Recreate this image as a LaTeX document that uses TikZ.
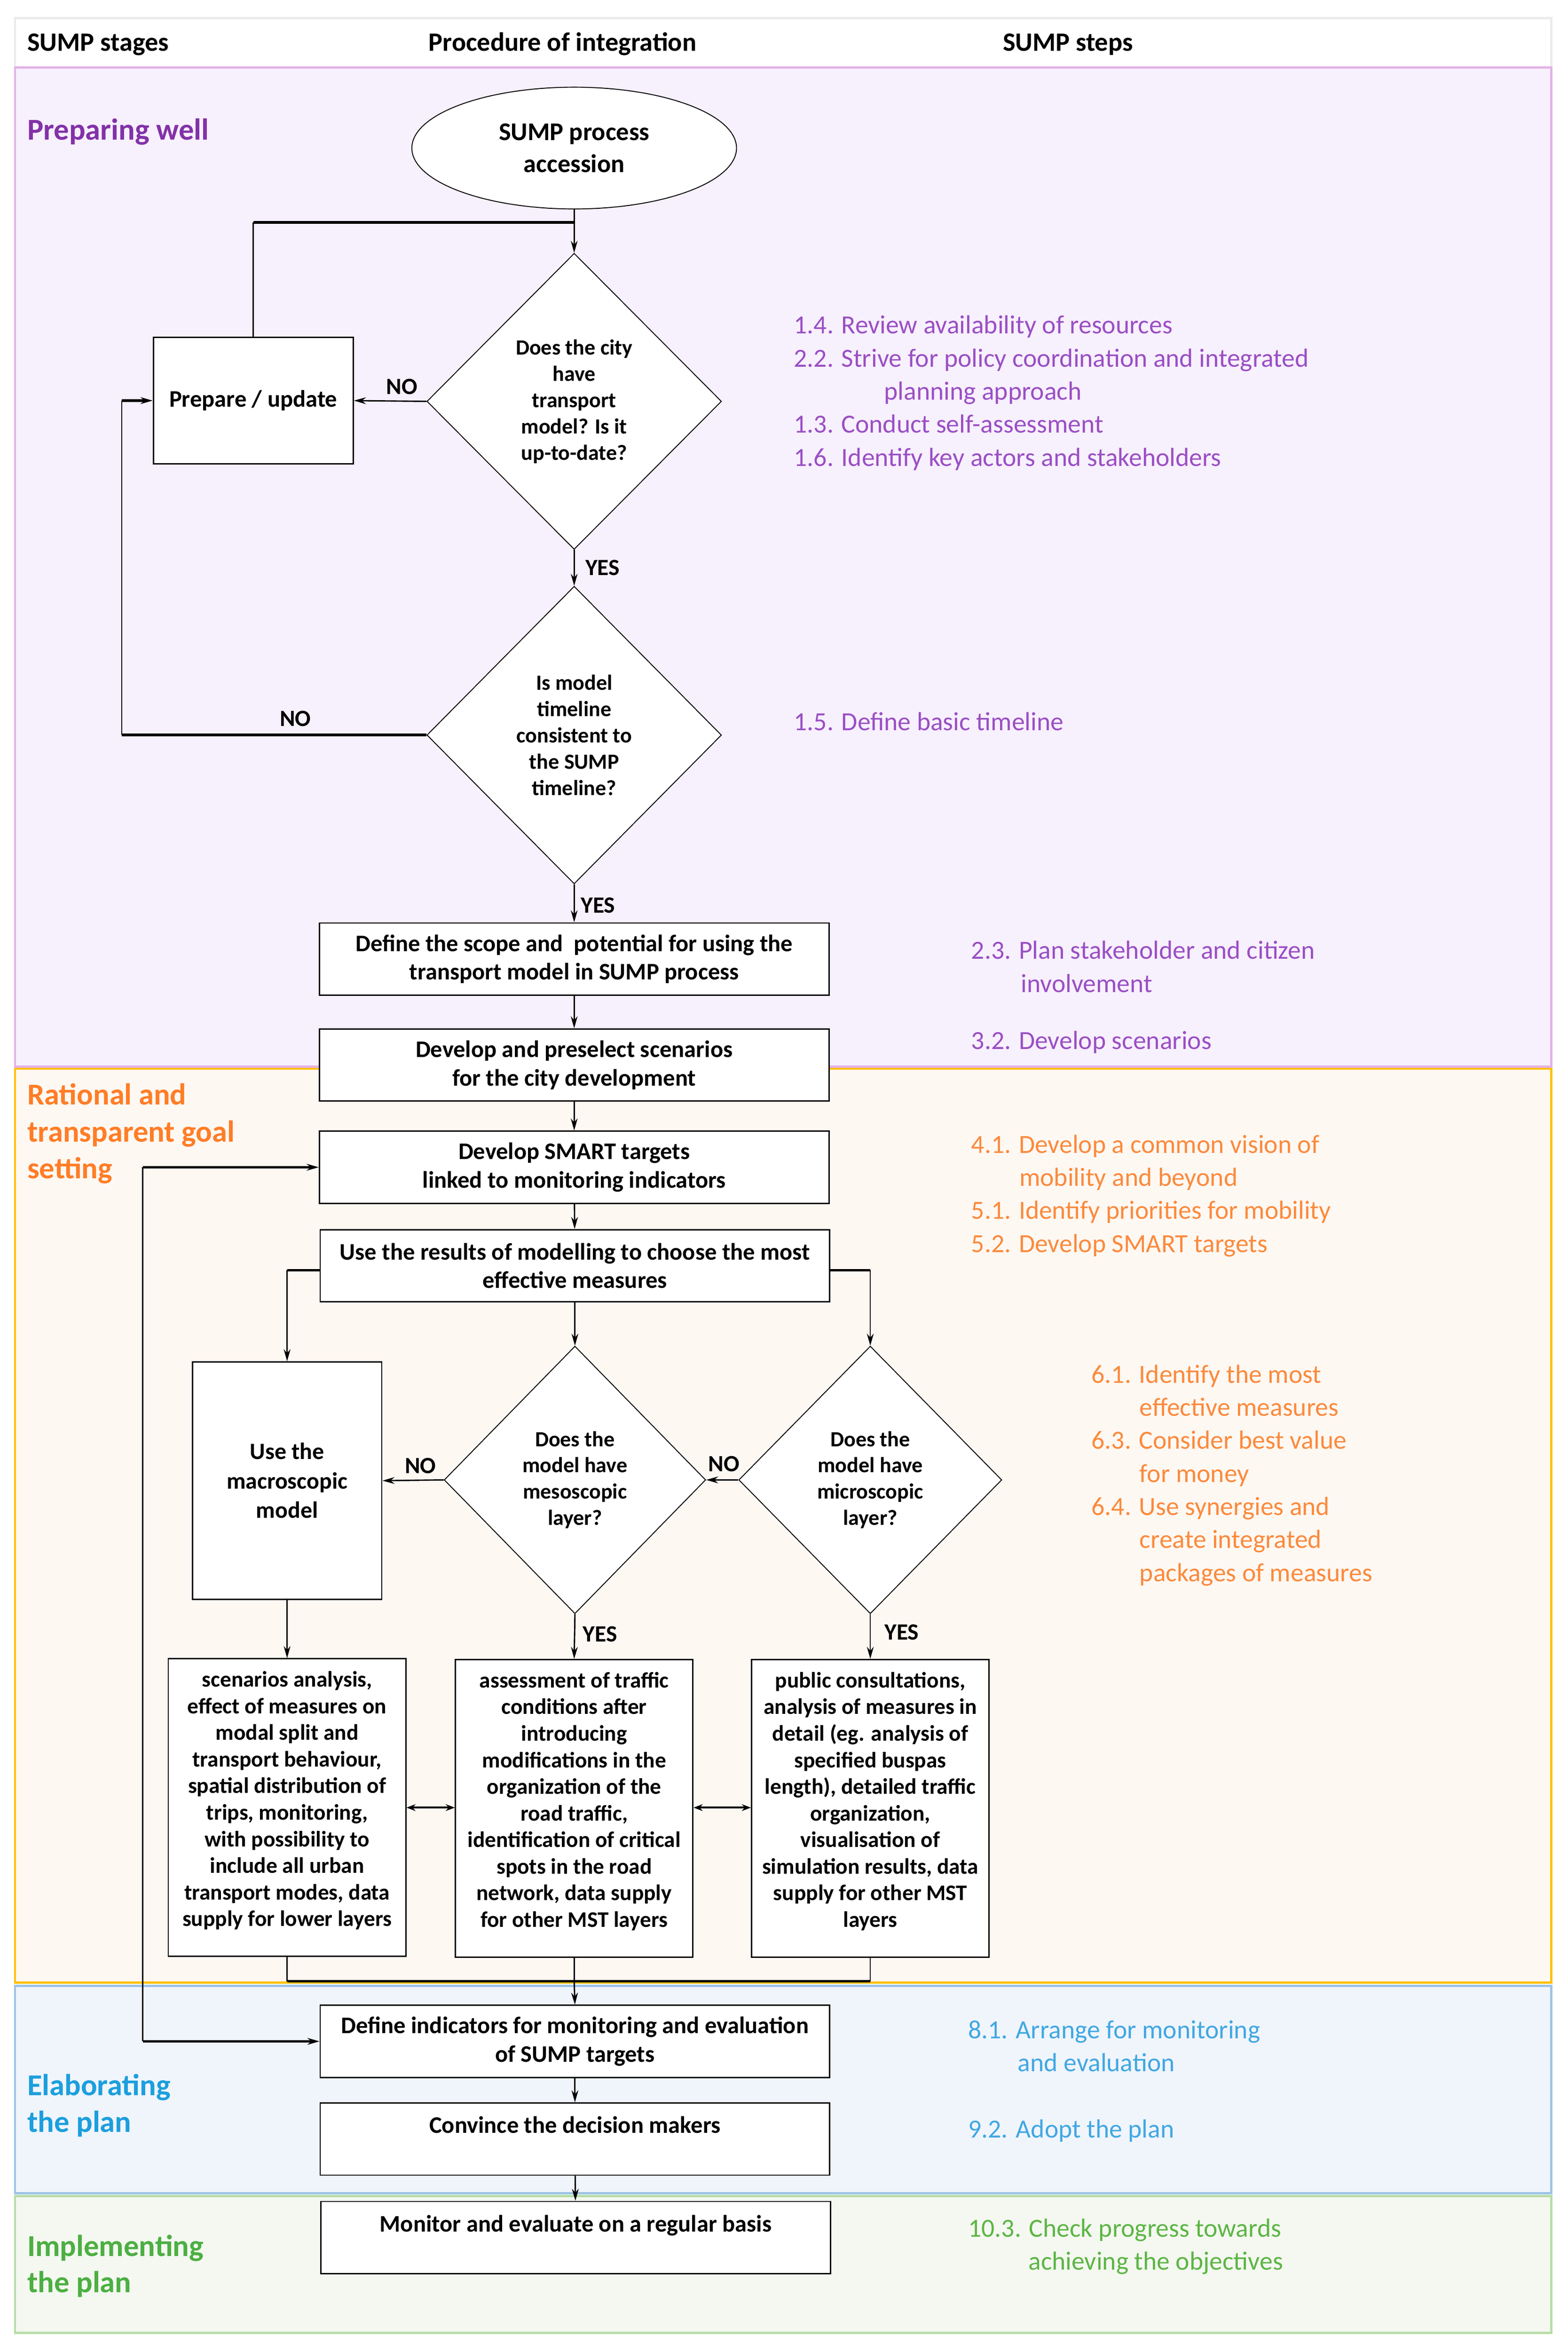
\documentclass[tikz,border=0pt]{standalone}
\usepackage{fontspec}
\setmainfont{Carlito}
\usepackage{tikz}
\usetikzlibrary{shapes.geometric}
\usetikzlibrary{arrows.meta}
\usepackage{xcolor}

\definecolor{purpleband}{HTML}{F7F0FD}
\definecolor{purpleline}{HTML}{E4B2E6}
\definecolor{orangeband}{HTML}{FEF8F3}
\definecolor{orangeline}{HTML}{FFC000}
\definecolor{blueband}{HTML}{F0F4FB}
\definecolor{blueline}{HTML}{9DC3E6}
\definecolor{greenband}{HTML}{F4F8F0}
\definecolor{greenline}{HTML}{B7DDA8}
\definecolor{sumppurple}{HTML}{8232A8}
\definecolor{sumporange}{HTML}{FF7D26}
\definecolor{sumpblue}{HTML}{1B9FDD}
\definecolor{sumpgreen}{HTML}{4CAF43}
\definecolor{steppurple}{HTML}{9A4FC4}
\definecolor{steporange}{HTML}{FB8A3C}
\definecolor{stepblue}{HTML}{40A8E2}
\definecolor{stepgreen}{HTML}{5DB545}

\tikzset{
  band/.style={line width=1.5pt},
  procbox/.style={draw, fill=white, line width=0.9pt, align=center, inner sep=0pt,
    minimum width=339pt, minimum height=48pt, font=\bfseries\fontsize{15.8}{19}\selectfont},
  smallbox/.style={draw, fill=white, line width=0.9pt, align=center, inner sep=0pt,
    font=\bfseries\fontsize{14.8}{17.7}\selectfont},
  decision/.style={draw, fill=white, diamond, line width=0.6pt, align=center, inner sep=0pt,
    font=\bfseries\fontsize{14.4}{17.5}\selectfont},
  answer/.style={font=\bfseries\fontsize{15.5}{17}\selectfont, inner sep=0pt},
  header/.style={anchor=base west, inner sep=0pt, font=\bfseries\fontsize{17.6}{20}\selectfont},
  stage/.style={anchor=base west, inner sep=0pt, font=\bfseries\fontsize{20.2}{24}\selectfont},
  steptext/.style={anchor=base west, inner sep=0pt, font=\fontsize{17.4}{22}\selectfont},
  link/.style={line width=0.9pt},
  thick link/.style={line width=1.8pt},
  flow/.style={link, -{Stealth[length=8pt,width=4.5pt]}},
  thick flow/.style={thick link, -{Stealth[length=8pt,width=4.5pt]}},
  both flow/.style={line width=1.2pt, {Stealth[length=6pt,width=4.5pt]}-{Stealth[length=6pt,width=4.5pt]}},
}

\begin{document}
\begin{tikzpicture}[x=1pt, y=-1pt]
    \useasboundingbox (0,0) rectangle (1043,1564);
    \fill[white] (0,0) rectangle (1043,1564);

    \draw[band, draw=black!8, fill=white] (10,12) rectangle (1032,45);
    \draw[band, draw=purpleline, fill=purpleband] (10,45) rectangle (1032,709.5);
    \draw[band, draw=orangeline, fill=orangeband] (10,711) rectangle (1032,1319);
    \draw[band, draw=blueline, fill=blueband] (10,1321) rectangle (1032,1459);
    \draw[band, draw=greenline, fill=greenband] (10,1461) rectangle (1032,1552);

    \node[header] (hstages) at (18,34) {SUMP stages};
    \node[header] (hproc) at (285,34) {Procedure of integration};
    \node[header] (hsteps) at (667,34) {SUMP steps};

    \node[stage, sumppurple] (spw) at (18,93) {Preparing well};
    \node[stage, sumporange] (srt1) at (18,735) {Rational and};
    \node[stage, sumporange] (srt2) at (18,759.5) {transparent goal};
    \node[stage, sumporange] (srt3) at (18,784) {setting};
    \node[stage, sumpblue] (sel1) at (18,1394) {Elaborating};
    \node[stage, sumpblue] (sel2) at (18,1418.5) {the plan};
    \node[stage, sumpgreen] (sim1) at (18,1501) {Implementing};
    \node[stage, sumpgreen] (sim2) at (18,1525) {the plan};

    \node[draw, fill=white, ellipse, line width=0.6pt, minimum width=216pt, minimum height=81pt, align=center,
      font=\bfseries\fontsize{17}{21.5}\selectfont] (start) at (382,98.5) {SUMP process\\accession};
    \node[decision, minimum width=196pt, minimum height=197pt] (dmodel) at (382,267) {Does the city\\have\\transport\\model? Is it\\up-to-date?};
    \node[smallbox, minimum width=133pt, minimum height=84pt, font=\bfseries\fontsize{15.8}{19}\selectfont] (prep) at (168.5,266.5) {Prepare / update};
    \node[decision, minimum width=196pt, minimum height=198pt] (dtime) at (382,489) {Is model\\timeline\\consistent to\\the SUMP\\timeline?};

    \node[procbox] (scope) at (382,638) {Define the scope and\ \ potential for using the\\transport model in SUMP process};
    \node[procbox] (scen) at (382,708.5) {Develop and preselect scenarios\\for the city development};
    \node[procbox] (smart) at (382,776.5) {Develop SMART targets\\linked to monitoring indicators};
    \node[procbox] (results) at (382.5,842) {Use the results of modelling to choose the most\\effective measures};

    \node[smallbox, minimum width=126pt, minimum height=158pt, font=\bfseries\fontsize{15.6}{19.5}\selectfont] (macro) at (191,985) {Use the\\macroscopic\\model};
    \node[decision, minimum width=174pt, minimum height=178pt] (dmeso) at (382.5,984.5) {Does the\\model have\\mesoscopic\\layer?};
    \node[decision, minimum width=175pt, minimum height=178pt] (dmicro) at (579,984.5) {Does the\\model have\\microscopic\\layer?};

    \node[smallbox, minimum width=158pt, minimum height=198pt] (resmacro) at (191,1202.5) {scenarios analysis,\\effect of measures on\\modal split and\\transport behaviour,\\spatial distribution of\\trips, monitoring,\\with possibility to\\include all urban\\transport modes, data\\supply for lower layers\\[-6pt]};
    \node[smallbox, minimum width=158pt, minimum height=198pt] (resmeso) at (382,1203) {assessment of traffic\\conditions after\\introducing\\modifications in the\\organization of the\\road traffic,\\identification of critical\\spots in the road\\network, data supply\\for other MST layers\\[-6pt]};
    \node[smallbox, minimum width=158pt, minimum height=198pt] (resmicro) at (579,1203) {public consultations,\\analysis of measures in\\detail (eg. analysis of\\specified buspas\\length), detailed traffic\\organization,\\visualisation of\\simulation results, data\\supply for other MST\\layers\\[-6pt]};

    \node[procbox] (indic) at (382.5,1358) {Define indicators for monitoring and evaluation\\of SUMP targets};
    \node[procbox] (conv) at (382.5,1423) {Convince the decision makers\\\mbox{}};
    \node[procbox] (monit) at (383,1488.5) {Monitor and evaluate on a regular basis\\\mbox{}};

    \coordinate (looptop) at (168.5,148);
    \coordinate (loopjoin) at (382,148);
    \coordinate (noturn) at (81,489);
    \coordinate (splitleft) at (191,845);
    \coordinate (splitright) at (579,845);
    \coordinate (mergeleft) at (191,1318);
    \coordinate (mergemid) at (382,1318);
    \coordinate (mergeright) at (579,1318);
    \coordinate (backtop) at (95,776.5);
    \coordinate (backbottom) at (95,1358);

    \draw[flow] (start) -- (dmodel.north);
    \draw[link] (prep.north) -- (looptop);
    \draw[thick link] (looptop) -- (loopjoin);
    \draw[flow] (dmodel.west) -- node[answer, pos=0.34, above=4pt] {NO} (prep.east);
    \draw[flow] (dmodel.south) -- node[answer, right=7pt] {YES} (dtime.north);
    \draw[thick link] (dtime.west) -- node[answer, pos=0.43, above=5pt] {NO} (noturn);
    \draw[link] (noturn) -- (noturn |- prep.west);
    \draw[thick flow] (noturn |- prep.west) -- (prep.west);
    \draw[flow] (dtime.south) -- node[answer, pos=0.55, right=4pt] {YES} (scope.north);
    \draw[flow] (scope) -- (scen);
    \draw[flow] (scen) -- (smart);
    \draw[flow] (smart) -- (results);
    \draw[flow] (results) -- (dmeso.north);
    \draw[thick link] (results.west |- splitleft) -- (splitleft);
    \draw[flow] (splitleft) -- (macro.north);
    \draw[thick link] (results.east |- splitright) -- (splitright);
    \draw[flow] (splitright) -- (dmicro.north);
    \draw[flow] (dmeso.west) -- node[answer, pos=0.38, above=4pt] {NO} (macro.east);
    \draw[flow] (dmicro.west) -- node[answer, pos=0.45, above=5pt] {NO} (dmeso.east);
    \draw[flow] (macro) -- (resmacro);
    \draw[flow] (dmeso.south) -- node[answer, pos=0.45, right=5pt] {YES} (resmeso.north);
    \draw[flow] (dmicro.south) -- node[answer, pos=0.4, right=9pt] {YES} (resmicro.north);
    \draw[both flow] (resmacro.east |- 0,1202.5) -- (resmeso.west |- 0,1202.5);
    \draw[both flow] (resmeso.east |- 0,1202.5) -- (resmicro.west |- 0,1202.5);
    \draw[link] (resmacro.south) -- (mergeleft);
    \draw[link] (resmicro.south) -- (mergeright);
    \draw[thick link] (mergeleft) -- (mergeright);
    \draw[link] (resmeso.south) -- (mergemid);
    \draw[flow] (mergemid) -- (indic.north);
    \draw[thick flow] (backtop) -- (smart.west);
    \draw[link] (backtop) -- (backbottom);
    \draw[thick flow] (backbottom) -- (indic.west);
    \draw[flow] (indic) -- (conv);
    \draw[flow] (conv) -- (monit);

    \node[steptext, steppurple] (st14) at (528,222) {1.4. Review availability of resources};
    \node[steptext, steppurple] (st22) at (528,244) {2.2. Strive for policy coordination and integrated};
    \node[steptext, steppurple] (st22b) at (588,266) {planning approach};
    \node[steptext, steppurple] (st13) at (528,288) {1.3. Conduct self-assessment};
    \node[steptext, steppurple] (st16) at (528,310) {1.6. Identify key actors and stakeholders};
    \node[steptext, steppurple] (st15) at (528,486) {1.5. Define basic timeline};
    \node[steptext, steppurple] (st23) at (646,638) {2.3. Plan stakeholder and citizen};
    \node[steptext, steppurple] (st23b) at (679,660) {involvement};
    \node[steptext, steppurple] (st32) at (646,698) {3.2. Develop scenarios};

    \node[steptext, steporange] (st41) at (646,767) {4.1. Develop a common vision of};
    \node[steptext, steporange] (st41b) at (678,789) {mobility and beyond};
    \node[steptext, steporange] (st51) at (646,811) {5.1. Identify priorities for mobility};
    \node[steptext, steporange] (st52) at (646,833) {5.2. Develop SMART targets};
    \node[steptext, steporange] (st61) at (726,920) {6.1. Identify the most};
    \node[steptext, steporange] (st61b) at (758,942) {effective measures};
    \node[steptext, steporange] (st63) at (726,964) {6.3. Consider best value};
    \node[steptext, steporange] (st63b) at (758,986) {for money};
    \node[steptext, steporange] (st64) at (726,1008) {6.4. Use synergies and};
    \node[steptext, steporange] (st64b) at (758,1030) {create integrated};
    \node[steptext, steporange] (st64c) at (758,1052) {packages of measures};

    \node[steptext, stepblue] (st81) at (644,1356) {8.1. Arrange for monitoring};
    \node[steptext, stepblue] (st81b) at (677,1378) {and evaluation};
    \node[steptext, stepblue] (st92) at (644,1422) {9.2. Adopt the plan};

    \node[steptext, stepgreen] (st103) at (644,1488) {10.3. Check progress towards};
    \node[steptext, stepgreen] (st103b) at (684,1510) {achieving the objectives};
\end{tikzpicture}
\end{document}
